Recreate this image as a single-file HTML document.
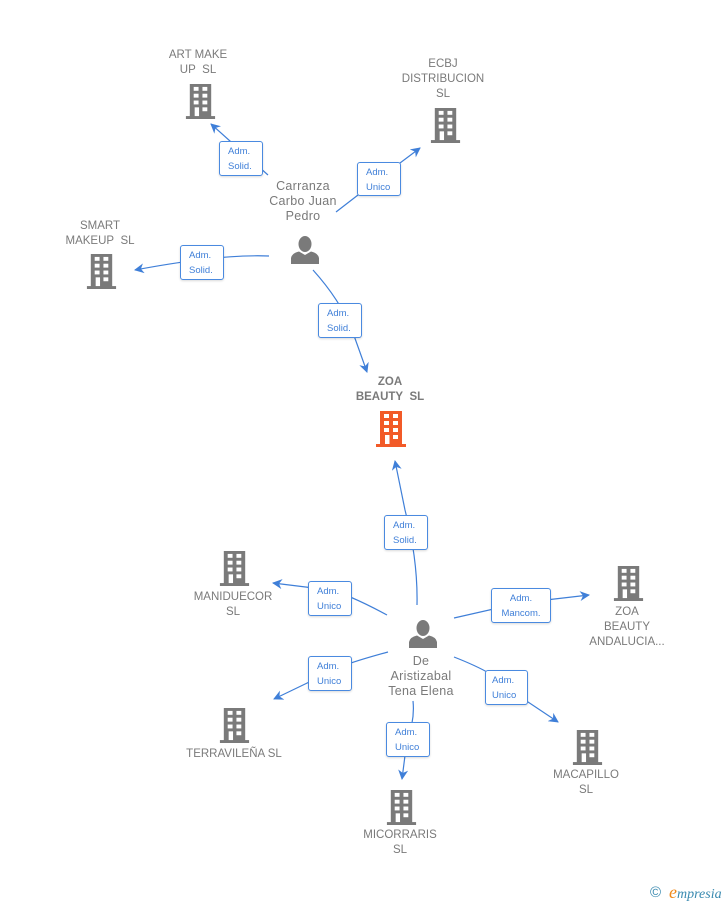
<!DOCTYPE html>
<html><head><meta charset="utf-8"><style>
html,body{margin:0;padding:0;background:#fff;}
body{width:728px;height:905px;position:relative;overflow:hidden;font-family:"Liberation Sans",sans-serif;}
.t{position:absolute;color:#7a7a7a;font-size:11.5px;line-height:15px;text-align:center;white-space:nowrap;transform:translateX(-50%);}
.p{position:absolute;color:#7a7a7a;font-size:12.5px;line-height:15px;text-align:center;white-space:nowrap;transform:translateX(-50%);letter-spacing:0.3px}
.b{position:absolute;box-sizing:border-box;border:1px solid #4a8ae0;border-radius:3px;background:#fff;color:#3f7fd8;font-size:9.5px;line-height:15px;padding:2px 0 0 8px;box-shadow:0 1px 2px rgba(0,0,0,0.15);}
</style></head><body>
<svg width="728" height="905" style="position:absolute;left:0;top:0">
<defs>
<symbol id="bld" viewBox="0 0 30 36">
<rect x="4" y="0" width="22" height="34" />
<rect x="0" y="33" width="30" height="3"/>
<g fill="#fff">
<rect x="8" y="3" width="5" height="4"/><rect x="17" y="3" width="5" height="4"/>
<rect x="8" y="10" width="5" height="4"/><rect x="17" y="10" width="5" height="4"/>
<rect x="8" y="17" width="5" height="4"/><rect x="17" y="17" width="5" height="4"/>
<rect x="9" y="24" width="4.5" height="9"/><rect x="17" y="24" width="5" height="4"/>
</g>
</symbol>
<symbol id="per" viewBox="0 0 28 28">
<ellipse cx="14" cy="8" rx="6.5" ry="8"/>
<path d="M0 28 L0 22 Q1 17 8 15.5 L14 19 L20 15.5 Q27 17 28 22 L28 28 Z"/>
</symbol>
<marker id="ar" viewBox="0 0 10 10" refX="9" refY="5" markerWidth="10" markerHeight="10" markerUnits="userSpaceOnUse" orient="auto">
<path d="M0 0 L10 5 L0 10 L3 5 Z" fill="#3f7fd8"/>
</marker>
</defs>
<g fill="none" stroke="#3f7fd8" stroke-width="1.2">
<path d="M268 175 L240 150 L211 124" marker-end="url(#ar)"/>
<path d="M336 212 L380 178 L420 148" marker-end="url(#ar)"/>
<path d="M269 256 Q220 254 135 270" marker-end="url(#ar)"/>
<path d="M313 270 Q340 300 352 330 L367 372" marker-end="url(#ar)"/>
<path d="M417 605 Q418 560 405 510 L395 461" marker-end="url(#ar)"/>
<path d="M387 615 Q350 595 330 590 L273 583" marker-end="url(#ar)"/>
<path d="M454 618 L520 603 L589 595" marker-end="url(#ar)"/>
<path d="M388 652 Q340 665 330 672 L274 699" marker-end="url(#ar)"/>
<path d="M454 657 Q500 675 510 690 L558 722" marker-end="url(#ar)"/>
<path d="M413 701 Q415 720 407 740 L402 779" marker-end="url(#ar)"/>
</g>
<g fill="#7a7a7a">
<use href="#bld" x="185" y="84" width="31" height="35"/>
<use href="#bld" x="430" y="108" width="31" height="35"/>
<use href="#bld" x="86" y="254" width="31" height="35"/>
<use href="#bld" x="219" y="551" width="31" height="35"/>
<use href="#bld" x="613" y="566" width="31" height="35"/>
<use href="#bld" x="219" y="708" width="31" height="35"/>
<use href="#bld" x="572" y="730" width="31" height="35"/>
<use href="#bld" x="386" y="790" width="31" height="35"/>
<use href="#per" x="291" y="236" width="28" height="28"/>
<use href="#per" x="409" y="620" width="28" height="28"/>
</g>
<use href="#bld" x="376" y="411" width="30" height="36" fill="#f25a28"/>
</svg>

<div class="t" style="left:198px;top:48px">ART MAKE<br>UP&nbsp; SL</div>
<div class="t" style="left:443px;top:57px">ECBJ<br>DISTRIBUCION<br>SL</div>
<div class="t" style="left:100px;top:219px">SMART<br>MAKEUP&nbsp; SL</div>
<div class="t" style="left:390px;top:375px;font-weight:bold;font-size:11.5px">ZOA<br>BEAUTY&nbsp; SL</div>
<div class="t" style="left:233px;top:590px">MANIDUECOR<br>SL</div>
<div class="t" style="left:627px;top:605px">ZOA<br>BEAUTY<br>ANDALUCIA...</div>
<div class="t" style="left:234px;top:747px">TERRAVILEÑA SL</div>
<div class="t" style="left:586px;top:768px">MACAPILLO<br>SL</div>
<div class="t" style="left:400px;top:828px">MICORRARIS<br>SL</div>

<div class="p" style="left:303px;top:179px">Carranza<br>Carbo Juan<br>Pedro</div>
<div class="p" style="left:421px;top:654px">De<br>Aristizabal<br>Tena Elena</div>

<div class="b" style="left:219px;top:141px;width:44px;height:35px">Adm.<br>Solid.</div>
<div class="b" style="left:357px;top:162px;width:44px;height:34px">Adm.<br>Unico</div>
<div class="b" style="left:180px;top:245px;width:44px;height:35px">Adm.<br>Solid.</div>
<div class="b" style="left:318px;top:303px;width:44px;height:35px">Adm.<br>Solid.</div>
<div class="b" style="left:384px;top:515px;width:44px;height:35px">Adm.<br>Solid.</div>
<div class="b" style="left:308px;top:581px;width:44px;height:35px">Adm.<br>Unico</div>
<div class="b" style="left:491px;top:588px;width:60px;height:35px;padding-left:0;text-align:center">Adm.<br>Mancom.</div>
<div class="b" style="left:308px;top:656px;width:44px;height:35px">Adm.<br>Unico</div>
<div class="b" style="left:485px;top:670px;width:43px;height:35px;padding-left:6px">Adm.<br>Unico</div>
<div class="b" style="left:386px;top:722px;width:44px;height:35px">Adm.<br>Unico</div>

<div style="position:absolute;left:650px;top:884px;font-size:15px;color:#3a8ab0;line-height:18px">©</div>
<div style="position:absolute;left:669px;top:883px;font-family:'Liberation Serif',serif;font-style:italic;font-size:14px;line-height:18px;color:#3a8ab0"><span style="color:#f08a1c;font-size:18px">e</span>mpresia</div>
</body></html>
